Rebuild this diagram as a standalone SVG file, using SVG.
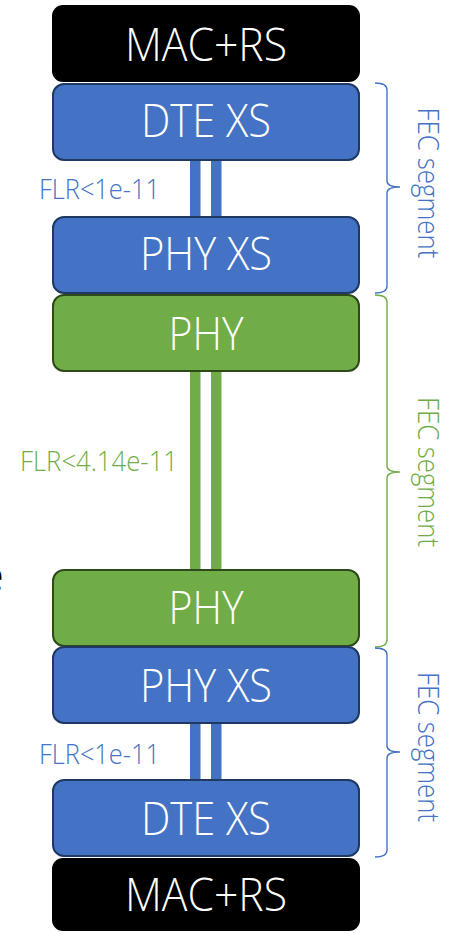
<svg xmlns="http://www.w3.org/2000/svg" width="456" height="933" viewBox="0 0 456 933">
  <style>
    .box text { font-family: "Open Sans", "Noto Sans", "Liberation Sans", sans-serif; font-weight: 300; font-size: 46px; fill: #ffffff; text-anchor: middle; }
    .mac rect { fill: #000000; }
    .xs rect { fill: #4472C4; stroke: #1F3864; stroke-width: 2; }
    .phy rect { fill: #70AD47; stroke: #2C4A1A; stroke-width: 2; }
    .bar-blue { fill: #4472C4; }
    .bar-green { fill: #70AD47; }
    .lbl { font-family: "Open Sans", "Noto Sans", "Liberation Sans", sans-serif; font-weight: 300; font-size: 28px; }
    .seg { font-family: "Open Sans", "Noto Sans", "Liberation Sans", sans-serif; font-weight: 300; font-size: 30px; text-anchor: middle; }
    .brace { fill: none; stroke-width: 1.4; }
    .blue { fill: #4472C4; }
    .green { fill: #70AD47; }
  </style>

  <!-- clipped word fragment at the left edge -->
  <text x="-21" y="591" font-family="Open Sans, Noto Sans, sans-serif" font-size="44" fill="#000000">e</text>

  <!-- links between layers (double lines) -->
  <g id="connectors">
    <rect class="bar-blue" x="190" y="160" width="10.5" height="57"/>
    <rect class="bar-blue" x="211" y="160" width="10.5" height="57"/>
    <text class="lbl blue" x="39" y="199" textLength="121" lengthAdjust="spacingAndGlyphs">FLR&lt;1e-11</text>

    <rect class="bar-green" x="190" y="371" width="10.5" height="199"/>
    <rect class="bar-green" x="211" y="371" width="10.5" height="199"/>
    <text class="lbl green" x="20" y="471" textLength="158" lengthAdjust="spacingAndGlyphs">FLR&lt;4.14e-11</text>

    <rect class="bar-blue" x="190" y="723" width="10.5" height="57"/>
    <rect class="bar-blue" x="211" y="723" width="10.5" height="57"/>
    <text class="lbl blue" x="39" y="764" textLength="121" lengthAdjust="spacingAndGlyphs">FLR&lt;1e-11</text>
  </g>

  <!-- layer stack -->
  <g id="mac-top" class="box mac">
    <rect x="52" y="5" width="308" height="77" rx="11"/>
    <text x="206" y="61" textLength="162" lengthAdjust="spacingAndGlyphs">MAC+RS</text>
  </g>
  <g id="dte-xs-top" class="box xs">
    <rect x="53" y="84" width="306" height="76" rx="11"/>
    <text x="206" y="137" textLength="130" lengthAdjust="spacingAndGlyphs">DTE XS</text>
  </g>
  <g id="phy-xs-top" class="box xs">
    <rect x="53" y="217" width="306" height="76" rx="11"/>
    <text x="206" y="270" textLength="132" lengthAdjust="spacingAndGlyphs">PHY XS</text>
  </g>
  <g id="phy-top" class="box phy">
    <rect x="53" y="295" width="306" height="76" rx="11"/>
    <text x="206" y="350" textLength="75" lengthAdjust="spacingAndGlyphs">PHY</text>
  </g>
  <g id="phy-bottom" class="box phy">
    <rect x="53" y="570" width="306" height="76" rx="11"/>
    <text x="206" y="624" textLength="75" lengthAdjust="spacingAndGlyphs">PHY</text>
  </g>
  <g id="phy-xs-bottom" class="box xs">
    <rect x="53" y="647" width="306" height="76" rx="11"/>
    <text x="206" y="702" textLength="132" lengthAdjust="spacingAndGlyphs">PHY XS</text>
  </g>
  <g id="dte-xs-bottom" class="box xs">
    <rect x="53" y="780" width="306" height="76" rx="11"/>
    <text x="206" y="835" textLength="130" lengthAdjust="spacingAndGlyphs">DTE XS</text>
  </g>
  <g id="mac-bottom" class="box mac">
    <rect x="52" y="858" width="308" height="73" rx="11"/>
    <text x="206" y="911" textLength="162" lengthAdjust="spacingAndGlyphs">MAC+RS</text>
  </g>

  <!-- FEC segment braces -->
  <g id="seg-top">
    <path class="brace" stroke="#4472C4" d="M375,83 Q387,83 387,90 V181 Q387,187 400,187 Q387,187 387,193 V286 Q387,293 375,293"/>
    <text class="seg blue" transform="translate(418,183) rotate(90)" textLength="151" lengthAdjust="spacingAndGlyphs">FEC segment</text>
  </g>
  <g id="seg-mid">
    <path class="brace" stroke="#70AD47" d="M375,295 Q387,295 387,302 V466 Q387,472 400,472 Q387,472 387,478 V640 Q387,647 375,647"/>
    <text class="seg green" transform="translate(418,472) rotate(90)" textLength="150" lengthAdjust="spacingAndGlyphs">FEC segment</text>
  </g>
  <g id="seg-bottom">
    <path class="brace" stroke="#4472C4" d="M375,648 Q387,648 387,655 V746 Q387,752 400,752 Q387,752 387,758 V850 Q387,857 375,857"/>
    <text class="seg blue" transform="translate(418,747) rotate(90)" textLength="150" lengthAdjust="spacingAndGlyphs">FEC segment</text>
  </g>
</svg>
